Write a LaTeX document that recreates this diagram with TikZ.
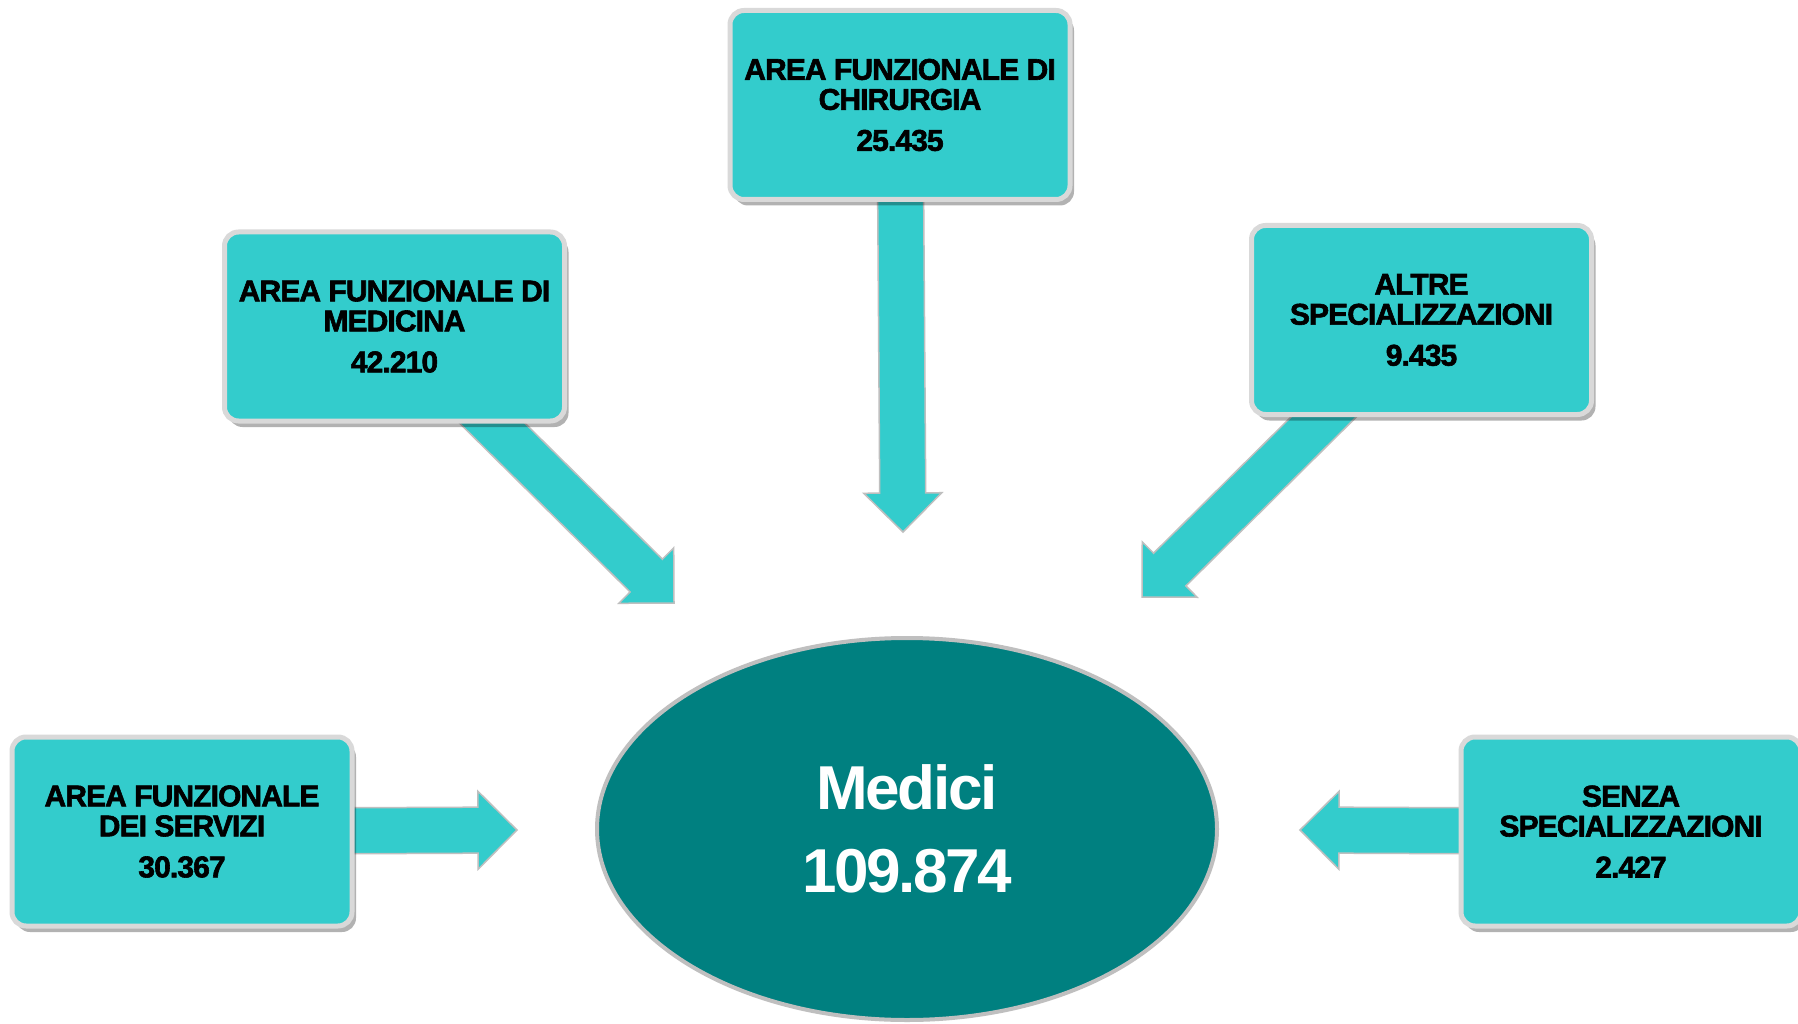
\documentclass[tikz,border=0pt]{standalone}
\usepackage{fontspec}
\setmainfont{Liberation Sans}
\newfontfamily\boxfont{Liberation Sans}[LetterSpace=-3,BoldFeatures={FakeBold=2}]
\newfontfamily\ellfont{Liberation Sans}[LetterSpace=-4]
\usetikzlibrary{shapes.geometric,shadows,calc}
\definecolor{turq}{HTML}{33CCCC}
\definecolor{tealdark}{HTML}{008080}
\definecolor{rim}{HTML}{D9D9D9}
\definecolor{arrowrim}{HTML}{BFBFBF}
\pgfdeclarelayer{bg}
\pgfsetlayers{bg,main}
\newcommand\boxtext{\boxfont\bfseries\fontsize{30}{30}\selectfont}
\newcommand\elltext{\ellfont\bfseries\fontsize{62}{83}\selectfont}
\newcommand\fatarrow[2]{%
  \path let \p1=($(#2)-(#1)$), \n1={veclen(\x1,\y1)}, \n2={atan2(\y1,\x1)} in
    \pgfextra{\xdef\falen{\n1}\xdef\faang{\n2}};
  \begin{scope}[shift={(#2)}, rotate=\faang]
    \draw[fat] (0,0) -- (-39,39) -- (-39,23) -- (-\falen,23) -- (-\falen,-23) -- (-39,-23) -- (-39,-39) -- cycle;
  \end{scope}}
\tikzset{
  box/.style={rectangle, rounded corners=14pt, fill=turq, draw=rim, line width=5pt,
    minimum width=340pt, minimum height=189pt, inner sep=0pt, align=center, font=\boxtext,
    drop shadow={shadow xshift=4pt, shadow yshift=-6pt, opacity=0.3, fill=black}},
  fat/.style={fill=turq, draw=arrowrim, line width=1.5pt, line join=miter},
  hub/.style={ellipse, fill=tealdark, draw=arrowrim, line width=4pt, minimum width=620pt,
    minimum height=382pt, inner sep=0pt, align=center, text=white, font=\elltext}
}
\begin{document}
\begin{tikzpicture}[x=1pt,y=1pt]
  \useasboundingbox (0,0) rectangle (1798,-1024);
  \node[box] (chir) at (900,-105) {AREA FUNZIONALE DI\\CHIRURGIA\\[11pt]25.435};
  \node[box] (medi) at (394.5,-326.5) {AREA FUNZIONALE DI\\MEDICINA\\[11pt]42.210};
  \node[box] (altre) at (1421.5,-320) {ALTRE\\SPECIALIZZAZIONI\\[11pt]9.435};
  \node[box] (serv) at (182,-831.5) {AREA FUNZIONALE\\DEI SERVIZI\\[11pt]30.367};
  \node[box] (senza) at (1631,-831.5) {SENZA\\SPECIALIZZAZIONI\\[11pt]2.427};
  \node[hub] (hub) at (907,-829) {Medici\\109.874};
  \coordinate (tipTop) at (903,-532);
  \coordinate (tipMed) at (674,-603);
  \coordinate (tipAlt) at (1142,-597);
  \coordinate (tipSer) at (517,-830);
  \coordinate (tipSen) at (1300,-830);
  \begin{pgfonlayer}{bg}
    \fill[white] (0,0) rectangle (1798,-1024);
    \fatarrow{chir.center}{tipTop}
    \fatarrow{medi.center}{tipMed}
    \fatarrow{altre.center}{tipAlt}
    \fatarrow{serv.center}{tipSer}
    \fatarrow{senza.center}{tipSen}
  \end{pgfonlayer}
\end{tikzpicture}
\end{document}
